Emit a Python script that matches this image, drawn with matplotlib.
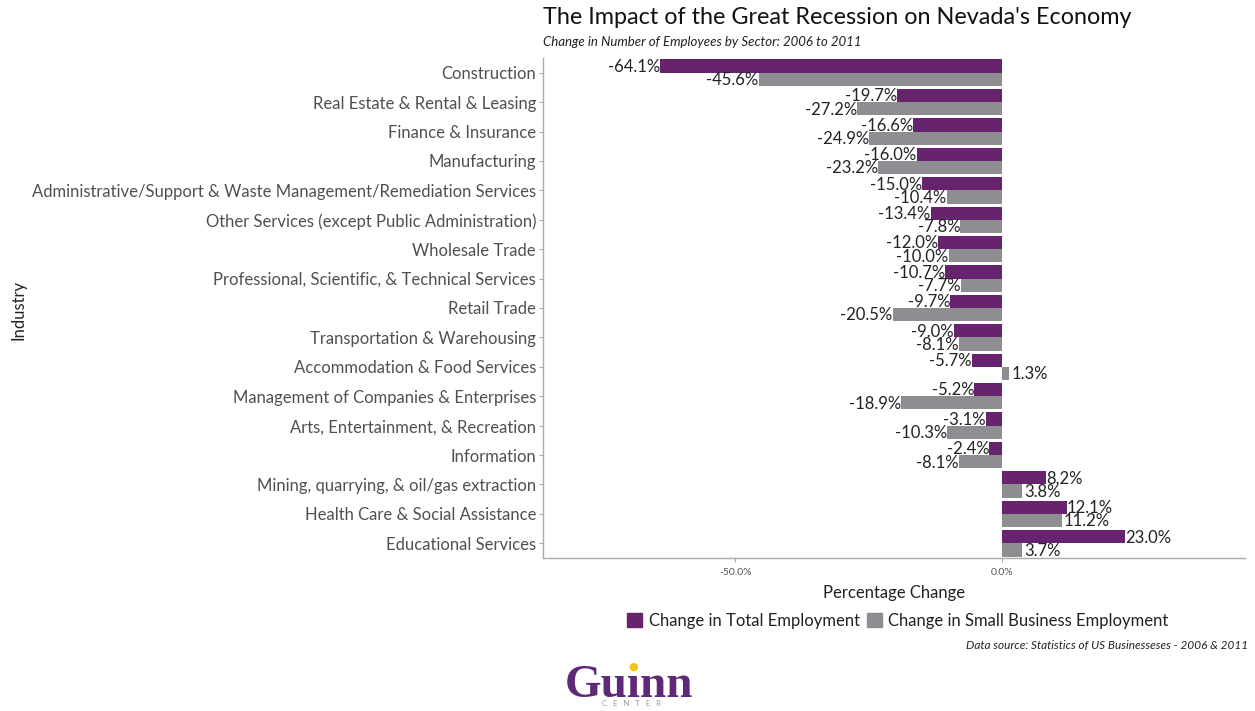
import numpy as np
import matplotlib.pyplot as plt
from matplotlib.patches import Patch

plt.rcParams['font.family'] = ['Lato', 'DejaVu Sans']

# ---------------- data ----------------
industries = [
    'Construction',
    'Real Estate & Rental & Leasing',
    'Finance & Insurance',
    'Manufacturing',
    'Administrative/Support & Waste Management/Remediation Services',
    'Other Services (except Public Administration)',
    'Wholesale Trade',
    'Professional, Scientific, & Technical Services',
    'Retail Trade',
    'Transportation & Warehousing',
    'Accommodation & Food Services',
    'Management of Companies & Enterprises',
    'Arts, Entertainment, & Recreation',
    'Information',
    'Mining, quarrying, & oil/gas extraction',
    'Health Care & Social Assistance',
    'Educational Services',
]
total_emp = [-64.1, -19.7, -16.6, -16.0, -15.0, -13.4, -12.0, -10.7, -9.7,
             -9.0, -5.7, -5.2, -3.1, -2.4, 8.2, 12.1, 23.0]
small_emp = [-45.6, -27.2, -24.9, -23.2, -10.4, -7.8, -10.0, -7.7, -20.5,
             -8.1, 1.3, -18.9, -10.3, -8.1, 3.8, 11.2, 3.7]
series_names = ['Change in Total Employment', 'Change in Small Business Employment']
xticks = [-50, 0]

purple = '#68236f'
grey = '#8e8e92'

# ---------------- figure ----------------
W, H = 1255, 711
fig = plt.figure(figsize=(W/100, H/100), dpi=100)
ax = fig.add_axes([543/W, 1-558/H, (1245-543)/W, (558-58)/H])

y = np.arange(len(industries))
h = 0.45
ax.barh(y - h/2, total_emp, height=h, color=purple, label=series_names[0])
ax.barh(y + h/2, small_emp, height=h, color=grey, label=series_names[1])

# value labels at the end of each bar
for yy, v in zip(y - h/2, total_emp):
    ax.text(v, yy + 0.03, '%.1f%%' % v, ha='right' if v < 0 else 'left', va='center',
            fontsize=12, color='#222222')
for yy, v in zip(y + h/2, small_emp):
    ax.text(v + (0.4 if v > 0 else 0), yy + 0.03, '%.1f%%' % v,
            ha='right' if v < 0 else 'left', va='center', fontsize=12, color='#222222')

ax.set_xlim(-86, 45.5)
ax.set_ylim(len(industries) - 0.5, -0.5)
ax.set_yticks(y)
ax.set_yticklabels(industries, fontsize=12, color='#505050')
ax.set_xticks(xticks)
ax.set_xticklabels(['%.1f%%' % t for t in xticks], fontsize=7.5, color='#555555')
ax.tick_params(axis='y', length=3, color='#aaaaaa', pad=2)
ax.tick_params(axis='x', length=3, color='#aaaaaa', pad=4)
for s in ['top', 'right']:
    ax.spines[s].set_visible(False)
for s in ['left', 'bottom']:
    ax.spines[s].set_color('#aaaaaa')
    ax.spines[s].set_linewidth(1.0)

ax.set_xlabel('Percentage Change', fontsize=12, color='#222222', labelpad=6)
fig.text(18/W, 1-310/H, 'Industry', rotation=90, ha='center', va='center',
         fontsize=12, color='#222222')

# titles
fig.text(543/W, 1-18/H, "The Impact of the Great Recession on Nevada's Economy",
         fontsize=16.8, color='#111111', ha='left', va='center')
fig.text(543/W, 1-42/H, 'Change in Number of Employees by Sector: 2006 to 2011',
         fontsize=9.5, style='italic', color='#222222', ha='left', va='center')

# legend
handles = [Patch(color=purple), Patch(color=grey)]
fig.legend(handles, series_names, loc='center', bbox_to_anchor=(898/W, 1-621/H),
           ncol=2, frameon=False, fontsize=12, handlelength=0.9, handleheight=0.9,
           handletextpad=0.4, columnspacing=0.4, labelcolor='#222222')

fig.text(1248/W, 1-645/H, 'Data source: Statistics of US Businesseses - 2006 & 2011',
         fontsize=8.5, style='italic', color='#222222', ha='right', va='center')

# logo
fig.text(629/W, 1-697/H, 'Gu\u0131nn', fontsize=34, fontweight='bold', color='#5e2a78',
         family='Liberation Serif', ha='center', va='baseline')
fig.text(633/W, 1-667/H, '\u25cf', fontsize=8, color='#f4c21a', ha='center', va='center',
         family='DejaVu Sans')
fig.text(631/W, 1-704/H, 'C   E   N   T   E   R', fontsize=5.5, color='#999999',
         ha='center', va='center')

fig.savefig('out.png', dpi=100)
